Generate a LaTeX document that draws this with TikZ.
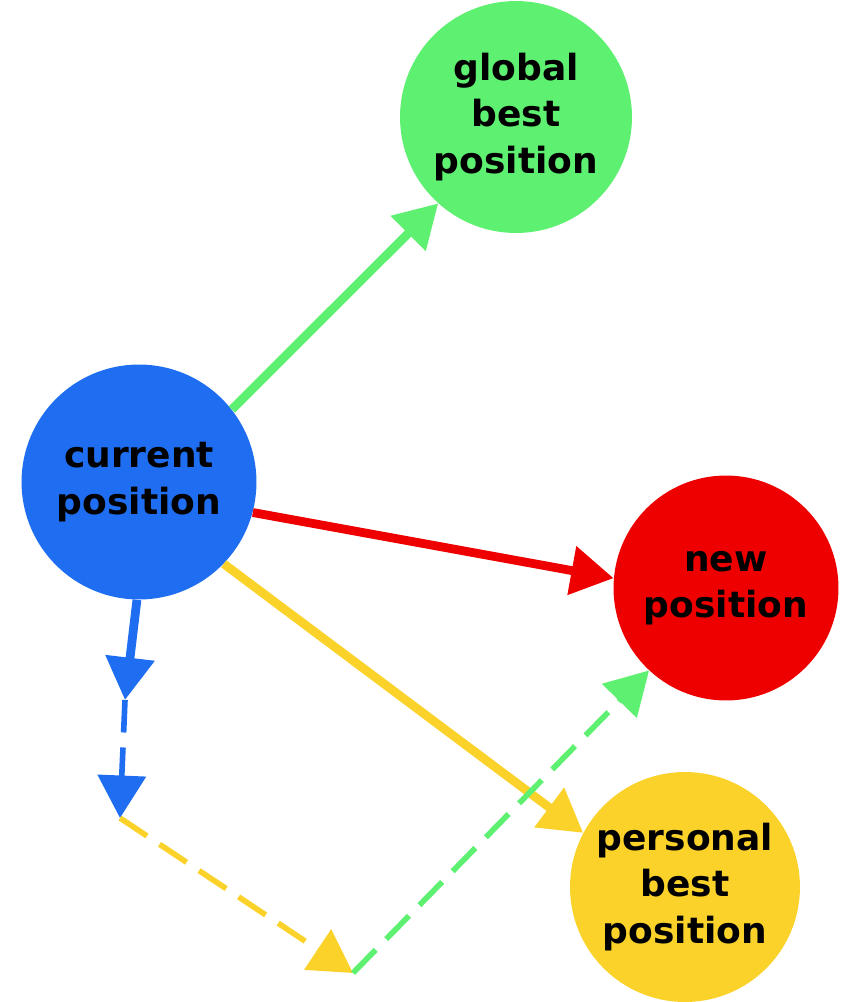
\documentclass[tikz,border=0pt]{standalone}
\usepackage{fontspec}
\setmainfont{DejaVu Sans}
\usetikzlibrary{arrows.meta}
\definecolor{PosBlue}{RGB}{31,110,242}
\definecolor{PosGreen}{RGB}{94,240,112}
\definecolor{PosRed}{RGB}{238,0,0}
\definecolor{PosYellow}{RGB}{250,210,42}

\begin{document}
\begin{tikzpicture}[
        x=0.02cm, y=-0.02cm,
        position/.style={
            circle,
            draw=none,
            fill=#1,
            inner sep=0pt,
            align=center,
            text=black,
            font=\bfseries\fontsize{20.5}{26.5}\selectfont
        },
        move/.style={
            draw=#1,
            line width=5pt,
            -{Triangle[length=0.85cm, width=0.95cm]}
        },
        dashmove/.style={
            move=#1,
            line width=3.2pt,
            dash pattern=on 0.65cm off 0.3cm
        }
    ]
        \useasboundingbox (0,0) rectangle (858,1002);
        \node[position=PosBlue, minimum size=4.7cm] (cur) at (139,482) {current\\position};
        \node[position=PosGreen, minimum size=4.64cm] (glob) at (516,117) {global\\best\\position};
        \node[position=PosRed, minimum size=4.5cm] (new) at (726,588) {new\\position};
        \node[position=PosYellow, minimum size=4.6cm] (pers) at (685,887) {personal\\best\\position};
        \coordinate (inert) at (125,700);
        \coordinate (inertend) at (120,818);
        \coordinate (persend) at (353,973);

        \draw[move=PosGreen] (cur.38) -- (glob.228);
        \draw[move=PosRed] (cur.345) -- (new.175);
        \draw[move=PosYellow] (cur.316) -- (pers.152);
        \draw[move=PosBlue] (cur.269) -- (inert);
        \draw[dashmove=PosBlue] (inert) -- (inertend);
        \draw[dashmove=PosYellow] (inertend) -- (persend);
        \draw[dashmove=PosGreen] (persend) -- (new.227);
    \end{tikzpicture}
\end{document}
